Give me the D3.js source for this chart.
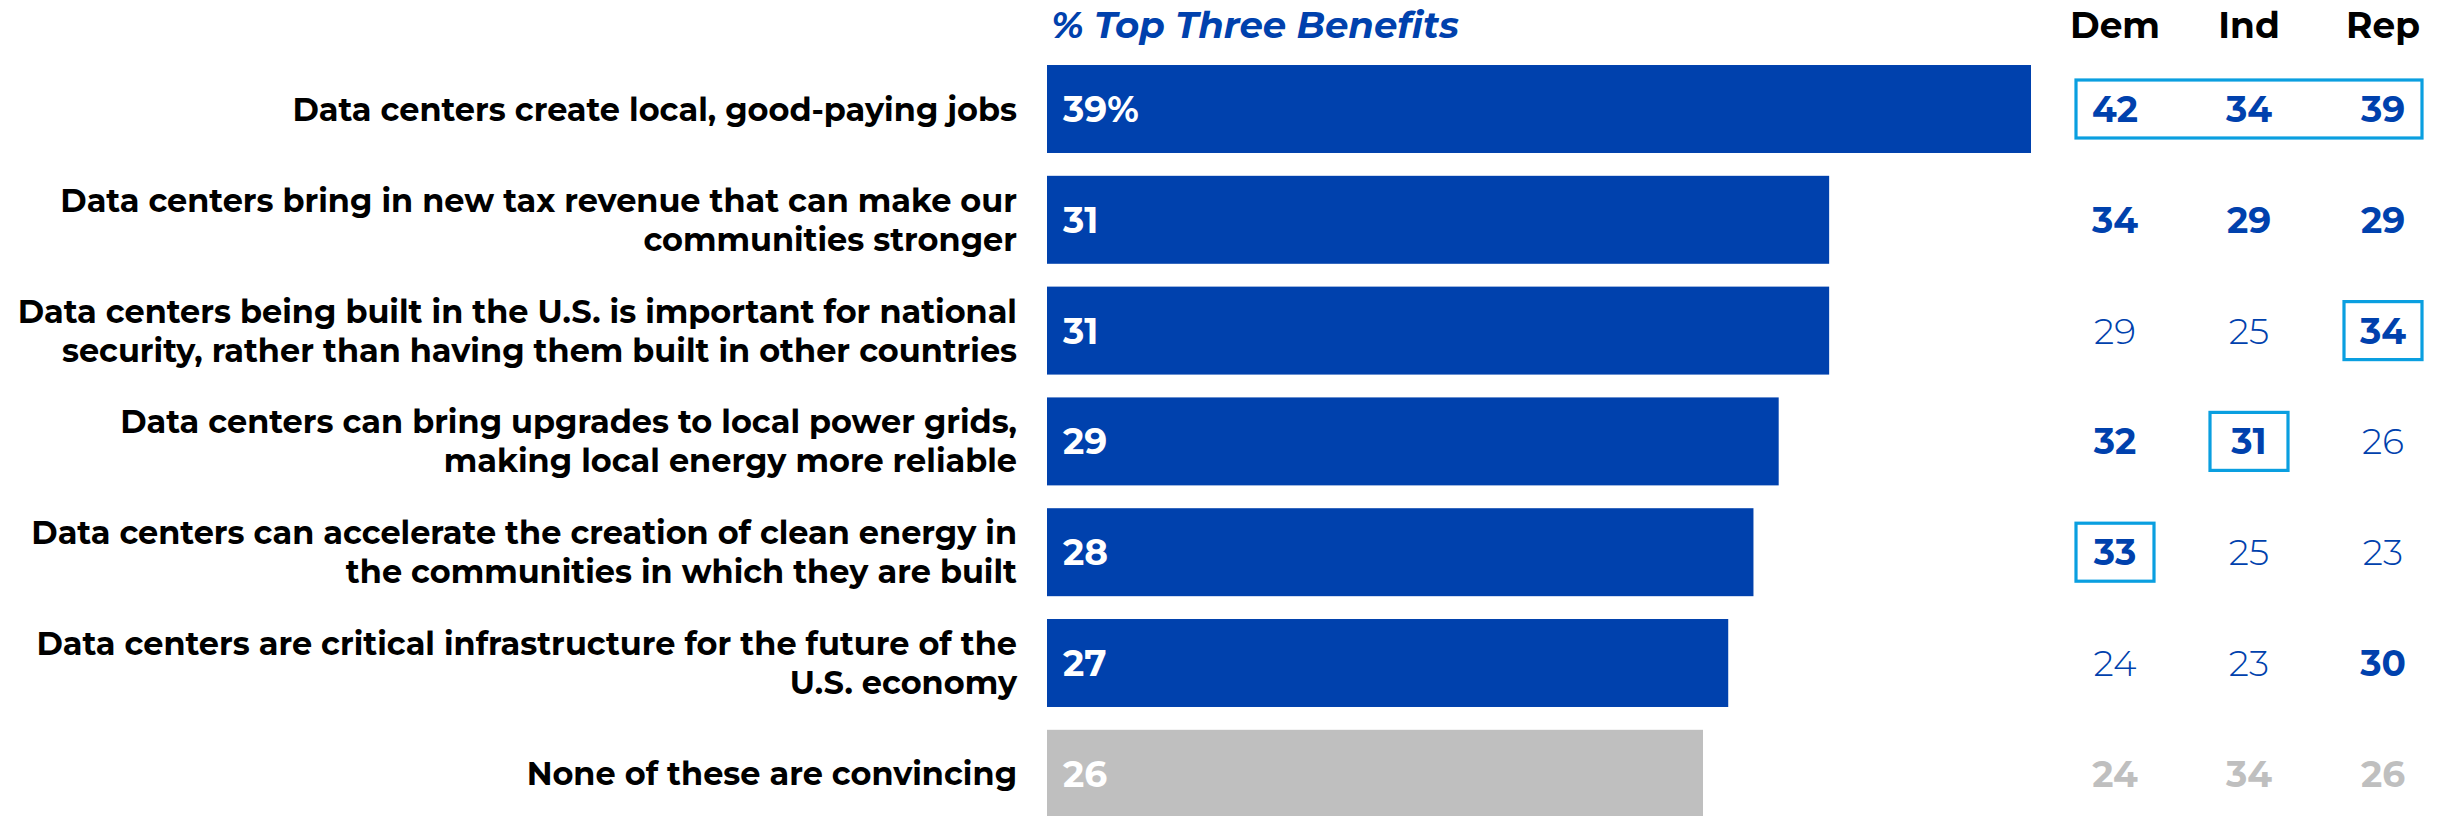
<!DOCTYPE html>
<html>
<head>
<meta charset="utf-8">
<script src="https://cdn.jsdelivr.net/npm/d3@7"></script>
<style>
  html, body { margin: 0; padding: 0; background: #fff; }
  svg { display: block; }
</style>
</head>
<body>
<svg id="chart" width="2445" height="816"></svg>
<script>
// ---- DATA ----
const categories = [
  ["Data centers create local, good-paying jobs"],
  ["Data centers bring in new tax revenue that can make our", "communities stronger"],
  ["Data centers being built in the U.S. is important for national", "security, rather than having them built in other countries"],
  ["Data centers can bring upgrades to local power grids,", "making local energy more reliable"],
  ["Data centers can accelerate the creation of clean energy in", "the communities in which they are built"],
  ["Data centers are critical infrastructure for the future of the", "U.S. economy"],
  ["None of these are convincing"]
];
const totals = [39, 31, 31, 29, 28, 27, 26];
const groups = ["Dem", "Ind", "Rep"];
const dem = [42, 34, 29, 32, 33, 24, 24];
const ind = [34, 29, 25, 31, 25, 23, 34];
const rep = [39, 29, 34, 26, 23, 30, 26];
// which party numbers are shown in bold (per row: Dem, Ind, Rep)
const boldFlags = [
  [1, 1, 1], [1, 1, 1], [0, 0, 1], [1, 1, 0], [1, 0, 0], [0, 0, 1], [1, 1, 1]
];
// highlighted cells: row index, first and last group
const highlights = [
  { row: 0, from: "Dem", to: "Rep" },
  { row: 2, from: "Rep", to: "Rep" },
  { row: 3, from: "Ind", to: "Ind" },
  { row: 4, from: "Dem", to: "Dem" }
];
const noneRow = 6;
const titleText = "% Top Three Benefits";

// ---- STYLE ----
const BLUE = "#0041ad";
const GREY = "#bfbfbf";
const BOX = "#0a9fe0";
const FONT = "Montserrat, Inter, 'Open Sans', sans-serif";

const svg = d3.select("#chart");

// measure helper: returns font-size so that text has target width
function fitSize(text, target, weight, style) {
  const t = svg.append("text").attr("font-family", FONT).attr("font-size", 100)
    .attr("font-weight", weight).attr("font-style", style || "normal").text(text);
  const w = t.node().getComputedTextLength();
  t.remove();
  return 100 * target / w;
}

const labelSize = fitSize(categories[0][0], 725, 700);
const titleSize = fitSize(titleText, 408, 700, "italic");
const headSize = fitSize("Dem", 90, 700);
const numSize = fitSize("42", 46, 700);
const barNumSize = numSize;

// ---- SCALES ----
const keys = categories.map((d, i) => i);
const y = d3.scaleBand().domain(keys).range([53.6, 829.2]).paddingInner(0.206).paddingOuter(0.103);
const x = d3.scaleLinear().domain([0, d3.max(totals)]).range([1047, 2031]);
const cx = d3.scalePoint().domain(groups).range([2115, 2383]);

// ---- TITLE & HEADERS ----
svg.append("text").attr("x", 1051).attr("y", 38)
  .attr("font-family", FONT).attr("font-size", titleSize).attr("font-weight", 700)
  .attr("font-style", "italic").attr("fill", BLUE).text(titleText);

svg.selectAll("text.head").data(groups).join("text").attr("class", "head")
  .attr("x", d => cx(d)).attr("y", 38).attr("text-anchor", "middle")
  .attr("font-family", FONT).attr("font-size", headSize).attr("font-weight", 700)
  .attr("fill", "#000").text(d => d);

// ---- BARS ----
svg.selectAll("rect.bar").data(totals).join("rect").attr("class", "bar")
  .attr("x", x(0)).attr("y", (d, i) => y(i))
  .attr("width", d => x(d) - x(0)).attr("height", y.bandwidth())
  .attr("fill", (d, i) => i === noneRow ? GREY : BLUE);

svg.selectAll("text.barval").data(totals).join("text").attr("class", "barval")
  .attr("x", x(0) + 16).attr("y", (d, i) => y(i) + y.bandwidth() / 2)
  .attr("dy", "0.36em")
  .attr("font-family", FONT).attr("font-size", barNumSize).attr("font-weight", 700)
  .attr("fill", "#fff").text((d, i) => i === 0 ? d + "%" : d);

// ---- ROW LABELS ----
const lineH = 39;
const lab = svg.selectAll("text.lab").data(categories).join("text").attr("class", "lab")
  .attr("text-anchor", "end").attr("font-family", FONT).attr("font-size", labelSize)
  .attr("font-weight", 700).attr("fill", "#000");
lab.selectAll("tspan").data((d, i) => d.map((s, j) => ({ s, j, n: d.length, i })))
  .join("tspan").attr("x", 1017)
  .attr("y", d => y(d.i) + y.bandwidth() / 2 + (d.j - (d.n - 1) / 2) * lineH)
  .attr("dy", "0.36em").text(d => d.s);

// ---- PARTY COLUMNS ----
const cells = [];
keys.forEach(i => {
  [dem, ind, rep].forEach((arr, g) => {
    cells.push({ i, g: groups[g], v: arr[i], bold: boldFlags[i][g] });
  });
});
svg.selectAll("text.cell").data(cells).join("text").attr("class", "cell")
  .attr("x", d => cx(d.g)).attr("y", d => y(d.i) + y.bandwidth() / 2)
  .attr("dy", "0.36em").attr("text-anchor", "middle")
  .attr("font-family", FONT).attr("font-size", numSize)
  .attr("font-weight", d => d.bold ? 700 : 300)
  .attr("fill", d => d.i === noneRow ? GREY : BLUE).text(d => d.v);

// ---- HIGHLIGHT BOXES ----
const boxHalfW = 39, boxH = 58;
svg.selectAll("rect.hl").data(highlights).join("rect").attr("class", "hl")
  .attr("x", d => cx(d.from) - boxHalfW)
  .attr("y", d => y(d.row) + y.bandwidth() / 2 - boxH / 2)
  .attr("width", d => cx(d.to) - cx(d.from) + 2 * boxHalfW)
  .attr("height", boxH)
  .attr("fill", "none").attr("stroke", BOX).attr("stroke-width", 3.2);
</script>
</body>
</html>
